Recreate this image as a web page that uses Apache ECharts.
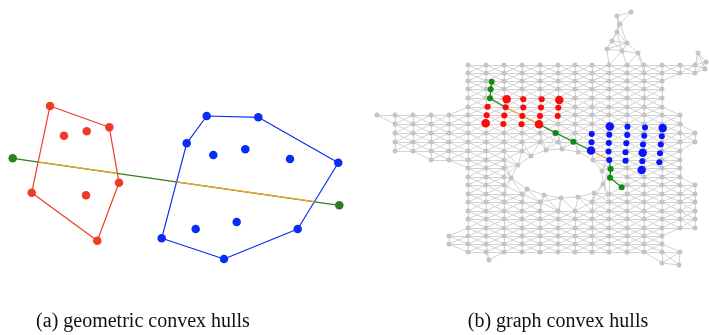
<!DOCTYPE html>
<html><head><meta charset="utf-8">
<script src="https://cdn.jsdelivr.net/npm/echarts@6/dist/echarts.min.js"></script>
<style>html,body{margin:0;padding:0;background:#fff}#c{width:709px;height:335px}</style>
</head><body><div id="c"></div>
<script>
// ---------- panel (a): geometric convex hulls ----------
const redPointsA = [[50,106],[109.3,127.3],[64,135.7],[86.7,131.3],[119,182.7],[31.7,192.7],[86,195.3],[97.3,240.7]];
const redHullA = [[50,106],[109.3,127.3],[119,182.7],[97.3,240.7],[31.7,192.7]];
const bluePointsA = [[206.7,116],[258.3,117.3],[186.7,143.3],[213.3,155],[245.3,149.3],[290,159],[338.3,162.7],[195.7,229],[236.7,222],[297.7,229],[161.7,238.3],[224,259]];
const blueHullA = [[206.7,116],[258.3,117.3],[338.3,162.7],[297.7,229],[224,259],[161.7,238.3],[186.7,143.3]];
const segmentA = [[12.7,158.3],[339.3,205.3]];

// ---------- panel (b): graph convex hulls ----------
const colX = [377,395,413,431,449,468,486,504,522,540,558,575,592,609,627,644,662,680,695];
const rowY = [65,73,81,89,98,107,115,124,133,142,151,160,168,177,185,194,202,211,219,228,236,244,252];
const rowSpans = [[5,18],[5,18],[5,16],[5,16],[5,16],[5,16],[0,17],[1,17],[1,18],[1,18],[1,17],[3,17],[5,17],[5,17],[5,18],[5,18],[5,18],[5,18],[5,18],[5,18],[4,16],[4,16],[5,17]];
const extraNodes = [[607,49],[622,51],[638,53],[612,41],[627,43],[617,32],[620,24],[617,16],[631,12],[698,53],[706,62],[705,69],[489,260],[662,263],[679,265]];
const holeRing = [[511,178],[518,165],[531,156],[546,150],[562,149],[578,152],[593,160],[602,171],[603,184],[594,193],[578,197],[561,198],[544,195],[527,189]];
const redSmallB = [[487.7,106.7],[486.7,115.3],[505.7,107.3],[504.3,115.5],[503.3,124],[523.3,99.3],[523.3,107.5],[522.3,116],[521.5,124.3],[541.7,99.3],[541,107.5],[540,116],[558.3,107.7],[557.7,116]];
const redBigB = [[506.7,99.3],[559.3,100],[539,124.3],[485.7,123.3]];
const blueSmallB = [[591.7,134],[591.5,142.3],[609.3,134.8],[608.8,143],[608.5,151.5],[609.3,160],[627.5,126.8],[627.2,135],[626.3,143.3],[625.5,152.2],[625.5,160.8],[645,127.5],[644.2,135.8],[643,144.5],[642.3,161.3],[661.8,136.3],[660.8,144.6],[660,153.3],[659.3,162.3]];
const blueBigB = [[609.8,126.6],[662.7,128],[591,150.5],[642.7,152.7],[641.7,170]];
const greenNodesB = [[491.7,81.7],[490.7,89.3],[490,98.3],[555.5,133],[573.3,141.7],[610.7,169],[610,177.7],[621.7,187.3]];
const greenPathsB = [
  [[491.7,81.7],[490.7,89.3],[490,98.3],[505.7,107.3]],
  [[539,124.3],[555.5,133],[573.3,141.7],[591,150.5]],
  [[609.3,160],[610.7,169],[610,177.7],[621.7,187.3]]
];
const orangePathsB = [
  [[505.7,107.3],[522.3,116],[539,124.3]],
  [[591,150.5],[609.3,160]]
];
const captions = ['(a) geometric convex hulls','(b) graph convex hulls'];

// ---------- helpers ----------
function segClip(seg, poly){
  const [p,q]=seg; const ts=[];
  for(let i=0;i<poly.length;i++){
    const a=poly[i], b=poly[(i+1)%poly.length];
    const rx=q[0]-p[0], ry=q[1]-p[1], sx=b[0]-a[0], sy=b[1]-a[1];
    const den=rx*sy-ry*sx; if(Math.abs(den)<1e-9) continue;
    const t=((a[0]-p[0])*sy-(a[1]-p[1])*sx)/den;
    const u=((a[0]-p[0])*ry-(a[1]-p[1])*rx)/den;
    if(t>=0&&t<=1&&u>=0&&u<=1) ts.push(t);
  }
  ts.sort((x,y)=>x-y);
  const pt=t=>[p[0]+(q[0]-p[0])*t,p[1]+(q[1]-p[1])*t];
  return [pt(ts[0]),pt(ts[ts.length-1])];
}
function inPoly(pt, poly){
  let inside=false;
  for(let i=0,j=poly.length-1;i<poly.length;j=i++){
    const xi=poly[i][0],yi=poly[i][1],xj=poly[j][0],yj=poly[j][1];
    if(((yi>pt[1])!==(yj>pt[1])) && (pt[0]<(xj-xi)*(pt[1]-yi)/(yj-yi)+xi)) inside=!inside;
  }
  return inside;
}
const d=(a,b)=>Math.hypot(a[0]-b[0],a[1]-b[1]);

// mesh nodes
let nodes=[];
rowSpans.forEach(([s,e],r)=>{for(let c=s;c<=e;c++) nodes.push([colX[c],rowY[r]]);});
nodes=nodes.concat(extraNodes);
nodes=nodes.filter(n=>!inPoly(n,holeRing) && holeRing.every(h=>d(n,h)>=7));
nodes=nodes.concat(holeRing);
const links=[];
for(let i=0;i<nodes.length;i++) for(let j=i+1;j<nodes.length;j++){
  if(d(nodes[i],nodes[j])<21.5) links.push({source:i,target:j});
}

const RA='#ef3b26', BA='#0b2cf2', GA='#2f7d22', OR='#f6a623';
const RB='#ff0a0a', BB='#0a14ff', GB='#118a11';
const lineS=(data,color,w,z)=>({type:'line',data,symbol:'none',silent:true,z:z||3,lineStyle:{color,width:w||1.2},animation:false});
const scat=(data,color,size,z)=>({type:'scatter',data,symbolSize:size,itemStyle:{color,opacity:1},silent:true,z:z||5,animation:false});

const series=[
  lineS(redHullA.concat([redHullA[0]]),RA,1.2),
  lineS(blueHullA.concat([blueHullA[0]]),BA,1.2),
  lineS(segmentA,GA,1.2),
  lineS(segClip(segmentA,redHullA),OR,1.3,4),
  lineS(segClip(segmentA,blueHullA),OR,1.3,4),
  scat(redPointsA,RA,8.5),
  scat(bluePointsA,BA,8.5),
  scat(segmentA,GA,8.5),
  {type:'graph',coordinateSystem:'cartesian2d',layout:'none',silent:true,z:2,animation:false,
   data:nodes.map(n=>({value:n})),links,symbolSize:5,
   itemStyle:{color:'#c4c4c4'},lineStyle:{color:'#d2d2d2',width:1,opacity:1}}
];
greenPathsB.forEach(p=>series.push(lineS(p,GB,1.2,4)));
orangePathsB.forEach(p=>series.push(lineS(p,OR,1.3,4)));
series.push(scat(redSmallB,RB,6),scat(redBigB,RB,8.5),scat(blueSmallB,BB,6),scat(blueBigB,BB,8.5),scat(greenNodesB,GB,6));

const chart=echarts.init(document.getElementById('c'),null,{renderer:'canvas'});
chart.setOption({
  animation:false,
  grid:{left:0,right:0,top:0,bottom:0},
  xAxis:{type:'value',min:0,max:709,show:false},
  yAxis:{type:'value',min:0,max:335,inverse:true,show:false},
  series,
  graphic:[
    {type:'text',x:143,y:322,style:{text:captions[0],font:'20px "Liberation Serif"',fill:'#111',align:'center',verticalAlign:'middle'}},
    {type:'text',x:558,y:322,style:{text:captions[1],font:'20px "Liberation Serif"',fill:'#111',align:'center',verticalAlign:'middle'}}
  ]
});
</script></body></html>
